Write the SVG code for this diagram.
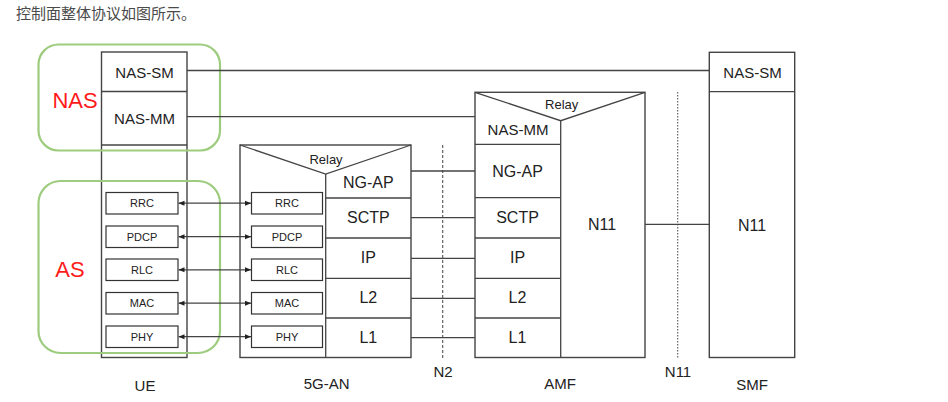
<svg xmlns="http://www.w3.org/2000/svg" width="948" height="402" viewBox="0 0 948 402">
<style>
.bx{fill:#fff;stroke:#444;stroke-width:1.4}
.ln{fill:none;stroke:#444;stroke-width:1.3}
.sb{fill:#fff;stroke:#333;stroke-width:1.2}
.grp{fill:none;stroke:#9dcc7e;stroke-width:2.2}
.t{font-family:"Liberation Sans",Arial,sans-serif;fill:#222;text-anchor:middle}
.l16{font-size:16px}
.l15{font-size:15px}
.l13{font-size:13px}
.s11{font-size:11px}
.red{font-family:"Liberation Sans",Arial,sans-serif;fill:#ff1a1a;font-size:22px;text-anchor:middle}
.ref{fill:none;stroke:#555;stroke-width:1.1}
</style>
<defs>
<marker id="ah" viewBox="0 0 6 6" refX="6" refY="3" markerWidth="6" markerHeight="6" markerUnits="userSpaceOnUse" orient="auto-start-reverse">
<path d="M0,0.5 L6,3 L0,5.5 Z" fill="#222"/>
</marker>
</defs>
<rect width="948" height="402" fill="#fff"/>
<g id="title">
<text x="16" y="18.5" font-family="'Liberation Sans','Noto Sans CJK SC',sans-serif" font-size="15" fill="#4a4a4a">控制面整体协议如图所示。</text>
</g>
<g id="ue">
<rect class="bx" x="101.5" y="52" width="85.5" height="305.5"/>
<line class="ln" x1="101.5" y1="91.5" x2="187" y2="91.5"/>
<line class="ln" x1="101.5" y1="145" x2="187" y2="145"/>
<text class="t l15" x="144.5" y="77.5">NAS-SM</text>
<text class="t l15" x="144.5" y="124">NAS-MM</text>
<rect class="sb" x="106" y="192.5" width="72" height="21.5"/>
<rect class="sb" x="106" y="226" width="72" height="21.5"/>
<rect class="sb" x="106" y="259" width="72" height="21.5"/>
<rect class="sb" x="106" y="292.5" width="72" height="21.5"/>
<rect class="sb" x="106" y="326" width="72" height="21.5"/>
<text class="t s11" x="142" y="207.3">RRC</text>
<text class="t s11" x="142" y="240.8">PDCP</text>
<text class="t s11" x="142" y="273.8">RLC</text>
<text class="t s11" x="142" y="307.3">MAC</text>
<text class="t s11" x="142" y="340.8">PHY</text>
<text class="t l15" x="145" y="390.5">UE</text>
</g>
<g id="nas-group">
<rect class="grp" x="38.5" y="44.5" width="181.5" height="106" rx="20" ry="20"/>
<text class="red" x="75" y="108">NAS</text>
</g>
<g id="as-group">
<rect class="grp" x="38.5" y="181" width="181.5" height="172" rx="22" ry="22"/>
<text class="red" x="70" y="277">AS</text>
</g>
<g id="gan">
<rect class="bx" x="240" y="145" width="171" height="212.5"/>
<polyline class="ln" points="240,145 325.7,174 411,145"/>
<line class="ln" x1="325.7" y1="174" x2="325.7" y2="357.5"/>
<line class="ln" x1="325.7" y1="198" x2="411" y2="198"/>
<line class="ln" x1="325.7" y1="238" x2="411" y2="238"/>
<line class="ln" x1="325.7" y1="278.3" x2="411" y2="278.3"/>
<line class="ln" x1="325.7" y1="318" x2="411" y2="318"/>
<text class="t l13" x="326" y="164">Relay</text>
<text class="t l16" x="368.3" y="188">NG-AP</text>
<text class="t l16" x="368.3" y="222.7">SCTP</text>
<text class="t l16" x="368.3" y="263">IP</text>
<text class="t l16" x="368.3" y="302.7">L2</text>
<text class="t l16" x="368.3" y="343">L1</text>
<rect class="sb" x="251.5" y="192.5" width="71" height="21.5"/>
<rect class="sb" x="251.5" y="226" width="71" height="21.5"/>
<rect class="sb" x="251.5" y="259" width="71" height="21.5"/>
<rect class="sb" x="251.5" y="292.5" width="71" height="21.5"/>
<rect class="sb" x="251.5" y="326" width="71" height="21.5"/>
<text class="t s11" x="287" y="207.3">RRC</text>
<text class="t s11" x="287" y="240.8">PDCP</text>
<text class="t s11" x="287" y="273.8">RLC</text>
<text class="t s11" x="287" y="307.3">MAC</text>
<text class="t s11" x="287" y="340.8">PHY</text>
<text class="t l15" x="326.7" y="389">5G-AN</text>
</g>
<g id="amf">
<rect class="bx" x="475" y="92.3" width="170" height="265.2"/>
<polyline class="ln" points="475,92.3 560.7,120.7 645,92.3"/>
<line class="ln" x1="560.7" y1="120.7" x2="560.7" y2="357.5"/>
<line class="ln" x1="475" y1="144.3" x2="560.7" y2="144.3"/>
<line class="ln" x1="475" y1="197.7" x2="560.7" y2="197.7"/>
<line class="ln" x1="475" y1="238" x2="560.7" y2="238"/>
<line class="ln" x1="475" y1="278.3" x2="560.7" y2="278.3"/>
<line class="ln" x1="475" y1="318" x2="560.7" y2="318"/>
<text class="t l13" x="561.7" y="109.3">Relay</text>
<text class="t l15" x="518" y="135">NAS-MM</text>
<text class="t l16" x="517.5" y="177">NG-AP</text>
<text class="t l16" x="517.5" y="222.7">SCTP</text>
<text class="t l16" x="517.5" y="263">IP</text>
<text class="t l16" x="517.5" y="302.7">L2</text>
<text class="t l16" x="517.5" y="343">L1</text>
<text class="t l16" x="602" y="230">N11</text>
<text class="t l15" x="560" y="389">AMF</text>
</g>
<g id="smf">
<rect class="bx" x="709.3" y="52.3" width="85.4" height="305.2"/>
<line class="ln" x1="709.3" y1="91.7" x2="794.7" y2="91.7"/>
<text class="t l15" x="752.5" y="77.5">NAS-SM</text>
<text class="t l16" x="752" y="230.5">N11</text>
<text class="t l15" x="752" y="390">SMF</text>
</g>
<g id="n2-ref">
<line class="ref" x1="442.7" y1="145" x2="442.7" y2="358" stroke-dasharray="3 2"/>
<text class="t l15" x="443" y="376.5">N2</text>
</g>
<g id="n11-ref">
<line class="ref" x1="677.7" y1="92" x2="677.7" y2="357.5" stroke-dasharray="1.5 1.5"/>
<text class="t l15" x="678" y="377">N11</text>
</g>
<g id="connectors">
<line class="ln" x1="187" y1="70.5" x2="709.3" y2="70.5"/>
<line class="ln" x1="187" y1="116.7" x2="475" y2="116.7"/>
<line class="ln" x1="178.5" y1="203.2" x2="251" y2="203.2" marker-start="url(#ah)" marker-end="url(#ah)"/>
<line class="ln" x1="178.5" y1="236.7" x2="251" y2="236.7" marker-start="url(#ah)" marker-end="url(#ah)"/>
<line class="ln" x1="178.5" y1="269.8" x2="251" y2="269.8" marker-start="url(#ah)" marker-end="url(#ah)"/>
<line class="ln" x1="178.5" y1="303.2" x2="251" y2="303.2" marker-start="url(#ah)" marker-end="url(#ah)"/>
<line class="ln" x1="178.5" y1="336.7" x2="251" y2="336.7" marker-start="url(#ah)" marker-end="url(#ah)"/>
<line class="ln" x1="411" y1="171" x2="475" y2="171"/>
<line class="ln" x1="411" y1="217.7" x2="475" y2="217.7"/>
<line class="ln" x1="411" y1="258.3" x2="475" y2="258.3"/>
<line class="ln" x1="411" y1="298.3" x2="475" y2="298.3"/>
<line class="ln" x1="411" y1="337.7" x2="475" y2="337.7"/>
<line class="ln" x1="645" y1="224.3" x2="709.3" y2="224.3"/>
</g>
</svg>
